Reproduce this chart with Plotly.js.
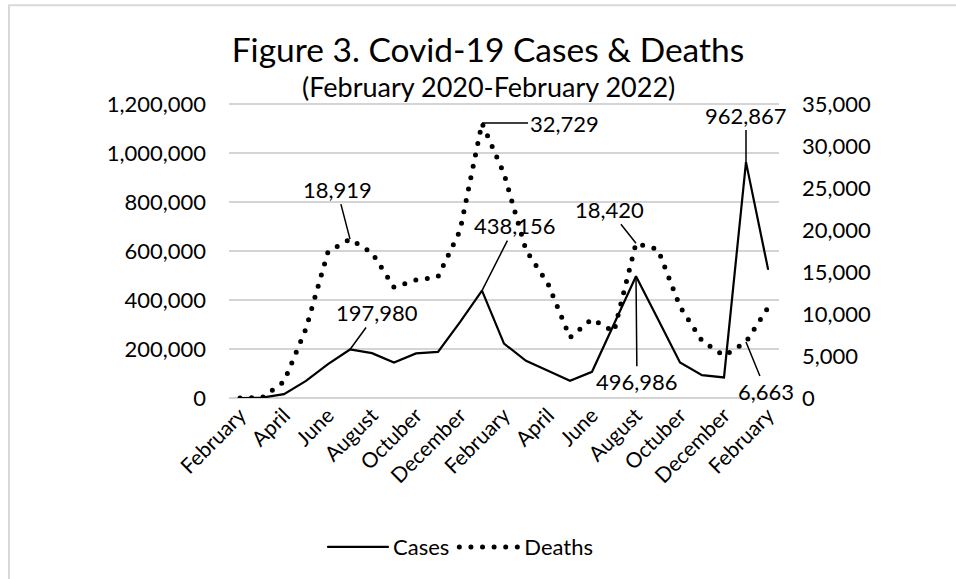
<!DOCTYPE html>
<html>
<head>
<meta charset="utf-8">
<script src="https://cdn.plot.ly/plotly-3.0.1.min.js"></script>
<style>
  html, body { margin: 0; padding: 0; background: #fff; }
  #chart { width: 956px; height: 579px; }
  path.js-line { stroke-linecap: round !important; }
</style>
</head>
<body>
<div id="chart"></div>
<script>
// Months Feb 2020 .. Feb 2022 (25 monthly points)
const months = [
  "February 2020","March 2020","April 2020","May 2020","June 2020","July 2020",
  "August 2020","September 2020","October 2020","November 2020","December 2020",
  "January 2021","February 2021","March 2021","April 2021","May 2021","June 2021",
  "July 2021","August 2021","September 2021","October 2021","November 2021",
  "December 2021","January 2022","February 2022"
];
const cases = [
  5, 1200, 16000, 70000, 138000, 197980, 183000, 145000, 182000, 188000, 310000,
  438156, 222000, 152000, 111000, 70000, 107000, 302000, 496986, 321000, 145000,
  93500, 84000, 962867, 527000
];
const deaths = [
  0, 30, 1940, 8270, 17400, 18919, 17280, 13200, 14040, 14430, 19930,
  32729, 26700, 17600, 13600, 7200, 9400, 7900, 18420, 17680, 10880,
  6800, 5020, 6663, 10760
];
const tickLabels = [
  "February","April","June","August","Octuber","December","February",
  "April","June","August","Octuber","December","February"
];
const casesTicks = [0, 200000, 400000, 600000, 800000, 1000000, 1200000];
const caseLabels = [
  {month: "July 2020", text: "197,980", ax: 27, ay: -37},
  {month: "January 2021", text: "438,156", ax: 33, ay: -65},
  {month: "August 2021", text: "496,986", ax: 1, ay: 105},
  {month: "January 2022", text: "962,867", ax: 0, ay: -47}
];
const deathLabels = [
  {month: "July 2020", text: "18,919", ax: -13, ay: -50},
  {month: "January 2021", text: "32,729", ax: 82, ay: 0},
  {month: "August 2021", text: "18,420", ax: -27, ay: -34},
  {month: "January 2022", text: "6,663", ax: 20, ay: 49}
];

const FONT = "Lato, 'Open Sans', sans-serif";
const GRID = "#d4d4d4";
const casesMax = casesTicks[casesTicks.length - 1];
const xIdx = months.map((m, i) => i);
const tickVals = tickLabels.map((t, i) => i * 2);

const traces = [
  {
    x: xIdx, y: cases, name: "Cases", type: "scatter", mode: "lines",
    line: {color: "#000", width: 2.2}, yaxis: "y"
  },
  {
    x: xIdx, y: deaths, name: "Deaths", type: "scatter", mode: "lines",
    line: {color: "#000", width: 5, dash: "0px,11.6px"}, yaxis: "y2"
  }
];

const annotations = [];
caseLabels.forEach(l => {
  const i = months.indexOf(l.month);
  annotations.push({
    x: i, y: cases[i], xref: "x", yref: "y", text: l.text,
    showarrow: true, arrowhead: 0, arrowwidth: 1.5, arrowcolor: "#000",
    ax: l.ax, ay: l.ay, standoff: 0, font: {size: 22, color: "#000", family: FONT}
  });
});
deathLabels.forEach(l => {
  const i = months.indexOf(l.month);
  annotations.push({
    x: i, y: deaths[i], xref: "x", yref: "y2", text: l.text,
    showarrow: true, arrowhead: 0, arrowwidth: 1.5, arrowcolor: "#000",
    ax: l.ax, ay: l.ay, standoff: 0, font: {size: 22, color: "#000", family: FONT}
  });
});
annotations.push({
  xref: "paper", yref: "paper", x: 0.471, y: 1.058,
  text: "(February 2020-February 2022)", showarrow: false,
  xanchor: "center", yanchor: "middle",
  font: {size: 27, color: "#000", family: FONT}
});

// horizontal gridlines at the left-axis tick values, plus the outer chart frame
const shapes = casesTicks.map(v => ({
  type: "line", xref: "paper", yref: "paper", x0: 0, x1: 1,
  y0: v / casesMax, y1: v / casesMax,
  line: {color: GRID, width: 2}, layer: "below"
}));
shapes.push({
  type: "rect", xref: "paper", yref: "paper",
  x0: (9 - 229) / 550, x1: (962 - 229) / 550,
  y0: (399 - 590) / 295, y1: (399 - 5) / 295,
  line: {color: "#d9d9d9", width: 2}, fillcolor: "rgba(0,0,0,0)", layer: "below"
});

const layout = {
  width: 956, height: 579, autosize: false,
  margin: {l: 229, r: 177, t: 104, b: 180, pad: 0},
  font: {family: FONT, color: "#000", size: 22},
  paper_bgcolor: "#fff", plot_bgcolor: "rgba(0,0,0,0)",
  title: {
    text: "Figure 3. Covid-19 Cases & Deaths",
    font: {size: 33.5, color: "#000", family: FONT},
    x: 488 / 956, xref: "container", xanchor: "center",
    y: 1 - 50 / 579, yref: "container", yanchor: "middle"
  },
  xaxis: {
    range: [-0.5, 24.5], tickmode: "array", tickvals: tickVals, ticktext: tickLabels,
    tickangle: -45, showgrid: false, zeroline: false, showline: false, ticks: "",
    tickfont: {size: 21, color: "#000", family: FONT}
  },
  yaxis: {
    range: [0, casesMax], tickmode: "array", tickvals: casesTicks, tickformat: ",d",
    showgrid: true, gridcolor: GRID, gridwidth: 2,
    zeroline: false, showline: false, ticks: "", ticklabelstandoff: 22,
    tickfont: {size: 22, color: "#000", family: FONT}
  },
  yaxis2: {
    range: [0, 35000], dtick: 5000, tickformat: ",d",
    overlaying: "y", side: "right",
    showgrid: false, zeroline: false, showline: false, ticks: "", ticklabelstandoff: 22,
    tickfont: {size: 22, color: "#000", family: FONT}
  },
  showlegend: true,
  legend: {
    orientation: "h", x: (323 - 229) / 550, xanchor: "left", y: -0.502, yanchor: "middle",
    font: {size: 22, color: "#000", family: FONT}, bgcolor: "rgba(0,0,0,0)",
    itemwidth: 60
  },
  annotations: annotations,
  shapes: shapes
};

Plotly.newPlot("chart", traces, layout, {displayModeBar: false, staticPlot: true});
</script>
</body>
</html>
